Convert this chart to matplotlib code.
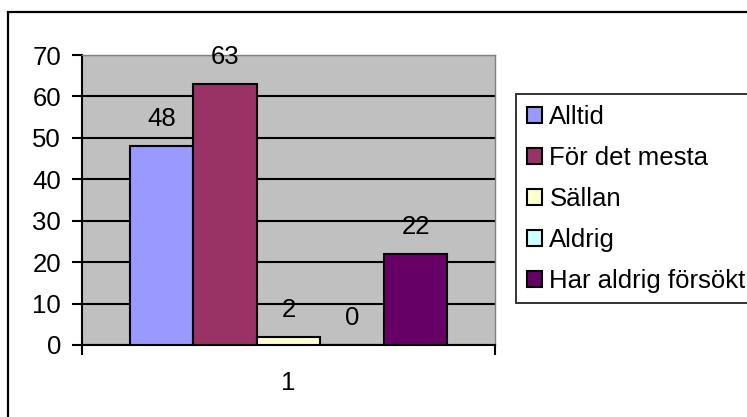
import matplotlib
matplotlib.use('Agg')
import matplotlib.pyplot as plt
from matplotlib.patches import Rectangle, Patch

# Data
categories = ['Alltid', 'För det mesta', 'Sällan', 'Aldrig', 'Har aldrig försökt']
values = [48, 63, 2, 0, 22]
colors = ['#9999FF', '#993366', '#FFFFCC', '#CCFFFF', '#660066']
yticks = [0, 10, 20, 30, 40, 50, 60, 70]
group_label = '1'

plt.rcParams['font.family'] = ['Liberation Sans', 'DejaVu Sans']
fs = 18.5

fig = plt.figure(figsize=(7.47, 4.17), dpi=100)
ax = fig.add_axes([82 / 747, 72 / 417, 413 / 747, 290 / 417])

# Outer chart border (extends beyond the visible image on right/bottom)
fig.patches.append(Rectangle((8 / 747, -0.1), 1.2, 1 - 12 / 417 + 0.1,
                             transform=fig.transFigure, fill=False,
                             edgecolor='black', linewidth=1.6, clip_on=False))

ax.set_facecolor('#C0C0C0')
n = len(values)
width = 1 / (n + 1.5)
start = 1 - n * width / 2
for i, (v, c) in enumerate(zip(values, colors)):
    x = start + (i + 0.5) * width
    ax.bar(x, v, width=width, color=c, edgecolor='black', linewidth=1.5, zorder=3)
    ax.annotate(str(v), (x, v), xytext=(0, 19.5), textcoords='offset points',
                ha='center', va='center', fontsize=fs, zorder=4)

ax.set_xlim(0.5, 1.5)
ax.set_ylim(0, 70)
ax.set_yticks(yticks)
ax.yaxis.grid(True, color='black', linewidth=1.5, zorder=1)
ax.set_axisbelow(True)
ax.tick_params(axis='y', direction='out', length=7.2, width=1.5, pad=8, labelsize=fs)

ax.set_xticks([0.5, 1.5])
ax.set_xticklabels(['', ''])
ax.set_xticks([1.0], minor=True)
ax.set_xticklabels([group_label], minor=True)
ax.tick_params(axis='x', which='major', direction='out', length=7, width=1.5)
ax.tick_params(axis='x', which='minor', length=0, pad=19, labelsize=fs)

for s in ['top', 'right']:
    ax.spines[s].set_color('#808080')
    ax.spines[s].set_linewidth(1.0)
for s in ['left', 'bottom']:
    ax.spines[s].set_color('black')
    ax.spines[s].set_linewidth(1.5)

handles = [Patch(facecolor=c, edgecolor='black', linewidth=1.5) for c in colors]
leg = fig.legend(handles, categories, loc='upper left',
                 bbox_to_anchor=(516 / 747, 1 - 94 / 417),
                 fontsize=fs, frameon=True, fancybox=False,
                 handlelength=0.58, handleheight=0.58, handletextpad=0.3,
                 labelspacing=0.66, borderpad=0.42, borderaxespad=0)
leg.get_frame().set_edgecolor('black')
leg.get_frame().set_linewidth(1.4)

plt.savefig('out.png', dpi=100)
